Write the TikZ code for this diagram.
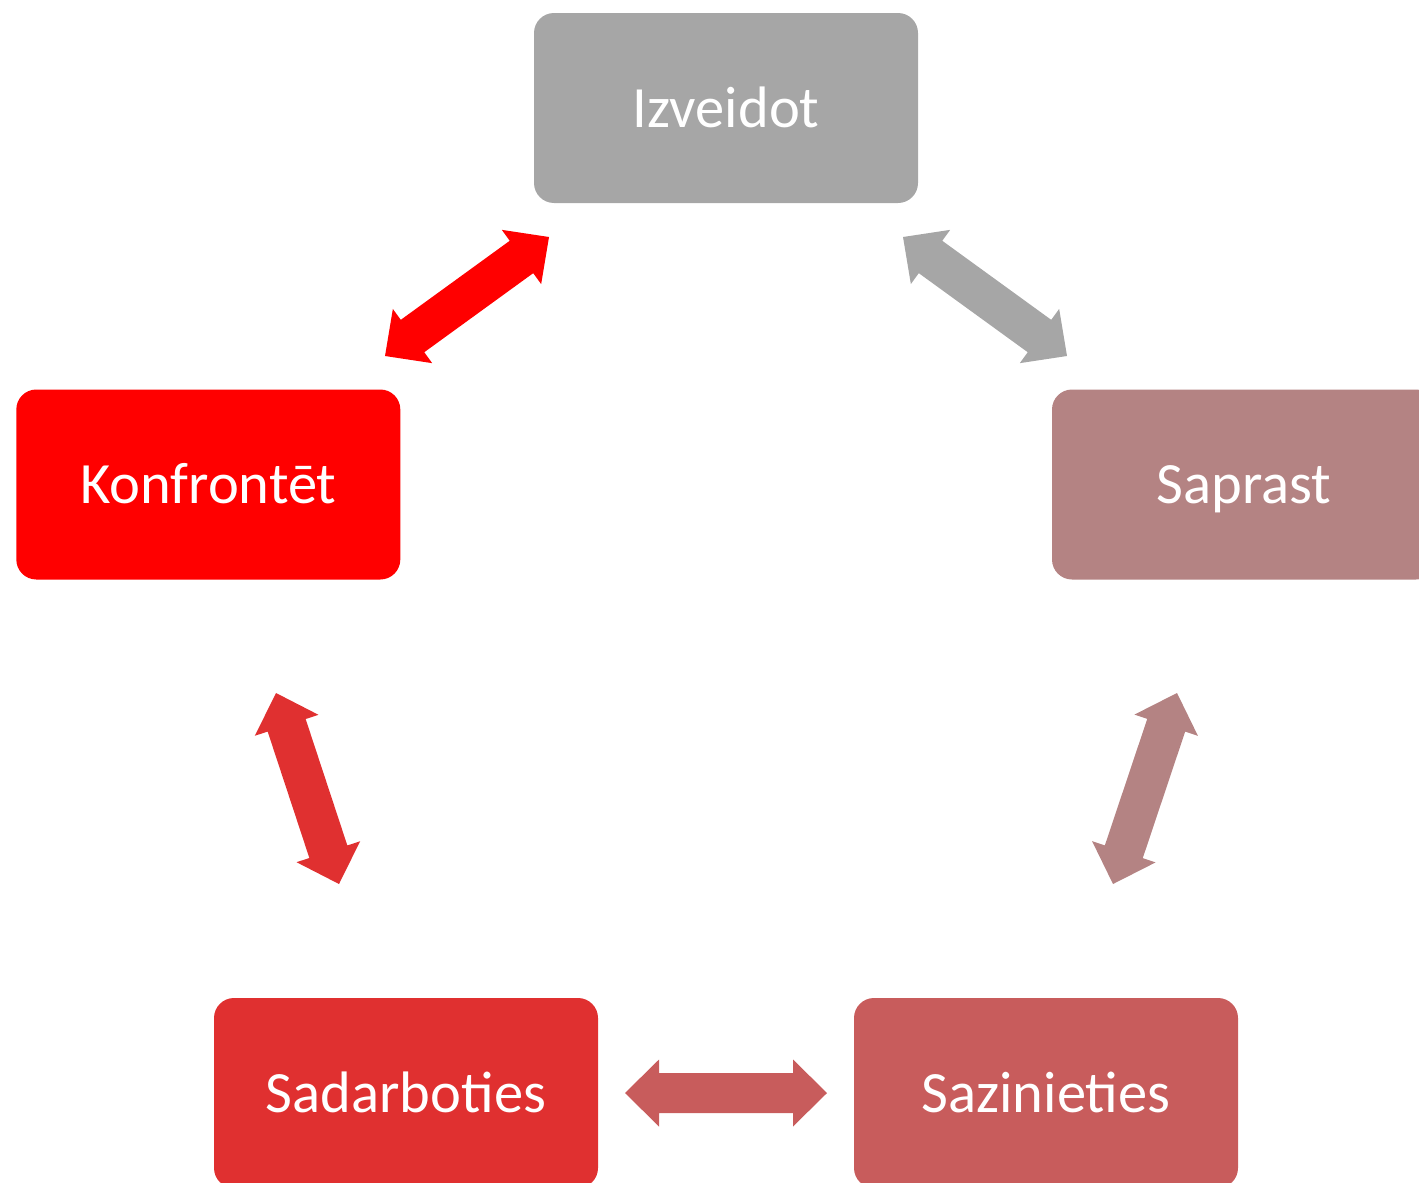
\documentclass[tikz,border=0pt]{standalone}
\usepackage{fontspec}
\setmainfont{Carlito}
\usetikzlibrary{calc}
\definecolor{cgray}{HTML}{A6A6A6}
\definecolor{crose}{HTML}{B48383}
\definecolor{cred}{HTML}{FF0000}
\definecolor{cbrick}{HTML}{E03030}
\definecolor{csalmon}{HTML}{C85C5C}
\newcommand\blockarrow[3]{%
  \fill[#3] (#1)
   -- ($(#1)!34pt!(#2)!33.5pt!90:(#2)$)
   -- ($(#1)!34pt!(#2)!20pt!90:(#2)$)
   -- ($(#2)!34pt!(#1)!20pt!-90:(#1)$)
   -- ($(#2)!34pt!(#1)!33.5pt!-90:(#1)$)
   -- (#2)
   -- ($(#2)!34pt!(#1)!33.5pt!90:(#1)$)
   -- ($(#2)!34pt!(#1)!20pt!90:(#1)$)
   -- ($(#1)!34pt!(#2)!20pt!-90:(#2)$)
   -- ($(#1)!34pt!(#2)!33.5pt!-90:(#2)$)
   -- cycle;}
\tikzset{
  stagebox/.style={rounded corners=20pt, minimum width=384pt, minimum height=190pt,
    inner sep=0pt, text=white, font=\fontsize{58.5}{70}\selectfont,
    text height=38pt, text depth=0pt, anchor=center}
}
\begin{document}
\begin{tikzpicture}[x=1pt,y=-1pt]
\useasboundingbox (0,0) rectangle (1419,1183);
\clip (0,0) rectangle (1419,1183);
\node[stagebox, fill=cgray] (izv) at (726,108) {Izveidot};
\node[stagebox, fill=crose] (sap) at (1244,484.5) {Saprast};
\node[stagebox, fill=cred] (kon) at (208.3,484.5) {Konfrontēt};
\node[stagebox, fill=cbrick] (sad) at (406,1093) {Sadarboties};
\node[stagebox, fill=csalmon] (saz) at (1046,1093) {Sazinieties};
\coordinate (r1) at (385,356);
\coordinate (r2) at (549,237);
\coordinate (g1) at (903,237);
\coordinate (g2) at (1067,356);
\coordinate (p1) at (1177,693);
\coordinate (p2) at (1113,884);
\coordinate (b1) at (276,693);
\coordinate (b2) at (339,884);
\coordinate (h1) at (625,1093);
\coordinate (h2) at (827,1093);
\blockarrow{r1}{r2}{cred}
\blockarrow{g1}{g2}{cgray}
\blockarrow{p1}{p2}{crose}
\blockarrow{b1}{b2}{cbrick}
\blockarrow{h1}{h2}{csalmon}
\end{tikzpicture}
\end{document}
